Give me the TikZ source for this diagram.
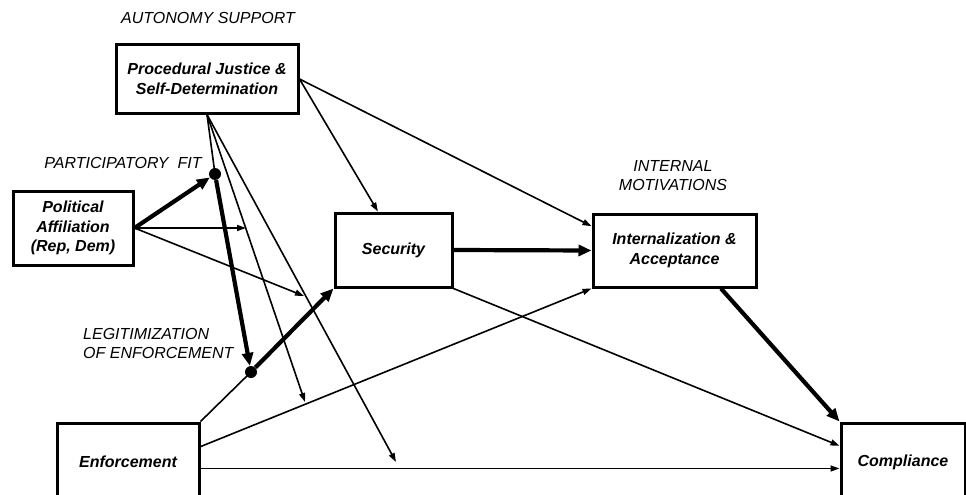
\documentclass[tikz,border=0pt]{standalone}
\usepackage{fontspec}
\setmainfont{Liberation Sans}
\usetikzlibrary{arrows.meta,calc}
\begin{document}
\begin{tikzpicture}[x=1pt,y=-1pt,
  box/.style={draw,line width=3pt,align=center,inner sep=0pt,
    font=\fontsize{16}{19.5}\selectfont\bfseries\itshape},
  lbl/.style={font=\fontsize{16}{19.5}\selectfont\itshape,inner sep=0pt},
  dotnode/.style={circle,fill=black,inner sep=0pt,minimum size=12pt},
  thin/.style={line width=1.6pt,-{Triangle[length=9pt,width=6pt]}},
  thinline/.style={line width=1.6pt},
  thick/.style={line width=4.2pt,-{Triangle[length=13pt,width=11pt]}},
  thickline/.style={line width=4.2pt}]
\useasboundingbox (0,0) rectangle (966,495);
\clip (0,0) rectangle (966,495);
\fill[white] (0,0) rectangle (966,495);

% boxes
\node[box,minimum width=182pt,minimum height=68pt] (pj) at (207,79) {Procedural Justice \&\\Self-Determination};
\node[box,minimum width=120pt,minimum height=74pt] (pa) at (73,228) {Political\\Affiliation\\(Rep, Dem)};
\node[box,minimum width=117pt,minimum height=74pt] (sec) at (393.5,250) {Security};
\node[box,minimum width=163pt,minimum height=73pt] (int) at (674.5,250.5) {Internalization \&\\Acceptance};
\node[box,minimum width=142pt,minimum height=78pt] (enf) at (128,462) {Enforcement};
\node[box,minimum width=124pt,minimum height=78pt] (comp) at (903,462) {Compliance};

% labels
\node[lbl] (lauto) at (208,18) {AUTONOMY SUPPORT};
\node[lbl] (lpart) at (123,163) {PARTICIPATORY\ \ FIT};
\node[lbl,align=left,anchor=west] (lleg) at (83,343.5) {LEGITIMIZATION\\OF ENFORCEMENT};
\node[lbl,align=center] (lint) at (673,175.5) {INTERNAL\\MOTIVATIONS};

% dots
\node[dotnode] (pf) at (215,174) {};
\node[dotnode] (le) at (251,372) {};

% free ends
\coordinate (m1) at (305,402);
\coordinate (m2) at (396,462);
\coordinate (m3) at (246,228);
\coordinate (m4) at (304,296);

% PJ fan
\draw[thinline] (pj.south) -- (pf.center);
\draw[thin] (pj.south) -- (m1);
\draw[thin] (pj.south) -- (m2);
\draw[thin] (pj.east) -- ($(sec.north west)!0.37!(sec.north east)$);
\draw[thin] (pj.east) -- ($(int.north west)!0.18!(int.south west)$);

% Political affiliation
\draw[thick] (pa.east) -- (pf);
\draw[thin] (pa.east) -- (m3);
\draw[thin] (pa.east) -- (m4);

% participatory fit -> legitimization
\draw[thick] (pf) -- (le);
\draw[thick] (le) -- (sec.south west);

% enforcement
\draw[thinline] (enf.north east) -- (le.center);
\draw[thin] ($(enf.north east)!0.31!(enf.south east)$) -- (int.south west);
\draw[thin] ($(enf.north east)!0.58!(enf.south east)$) -- ($(comp.north west)!0.58!(comp.south west)$);

% security, internalization
\draw[thick] (sec.east) -- (int.west);
\draw[thin] (sec.south east) -- ($(comp.north west)!0.3!(comp.south west)$);
\draw[thick] ($(int.south west)!0.78!(int.south east)$) -- (comp.north west);
\end{tikzpicture}
\end{document}
